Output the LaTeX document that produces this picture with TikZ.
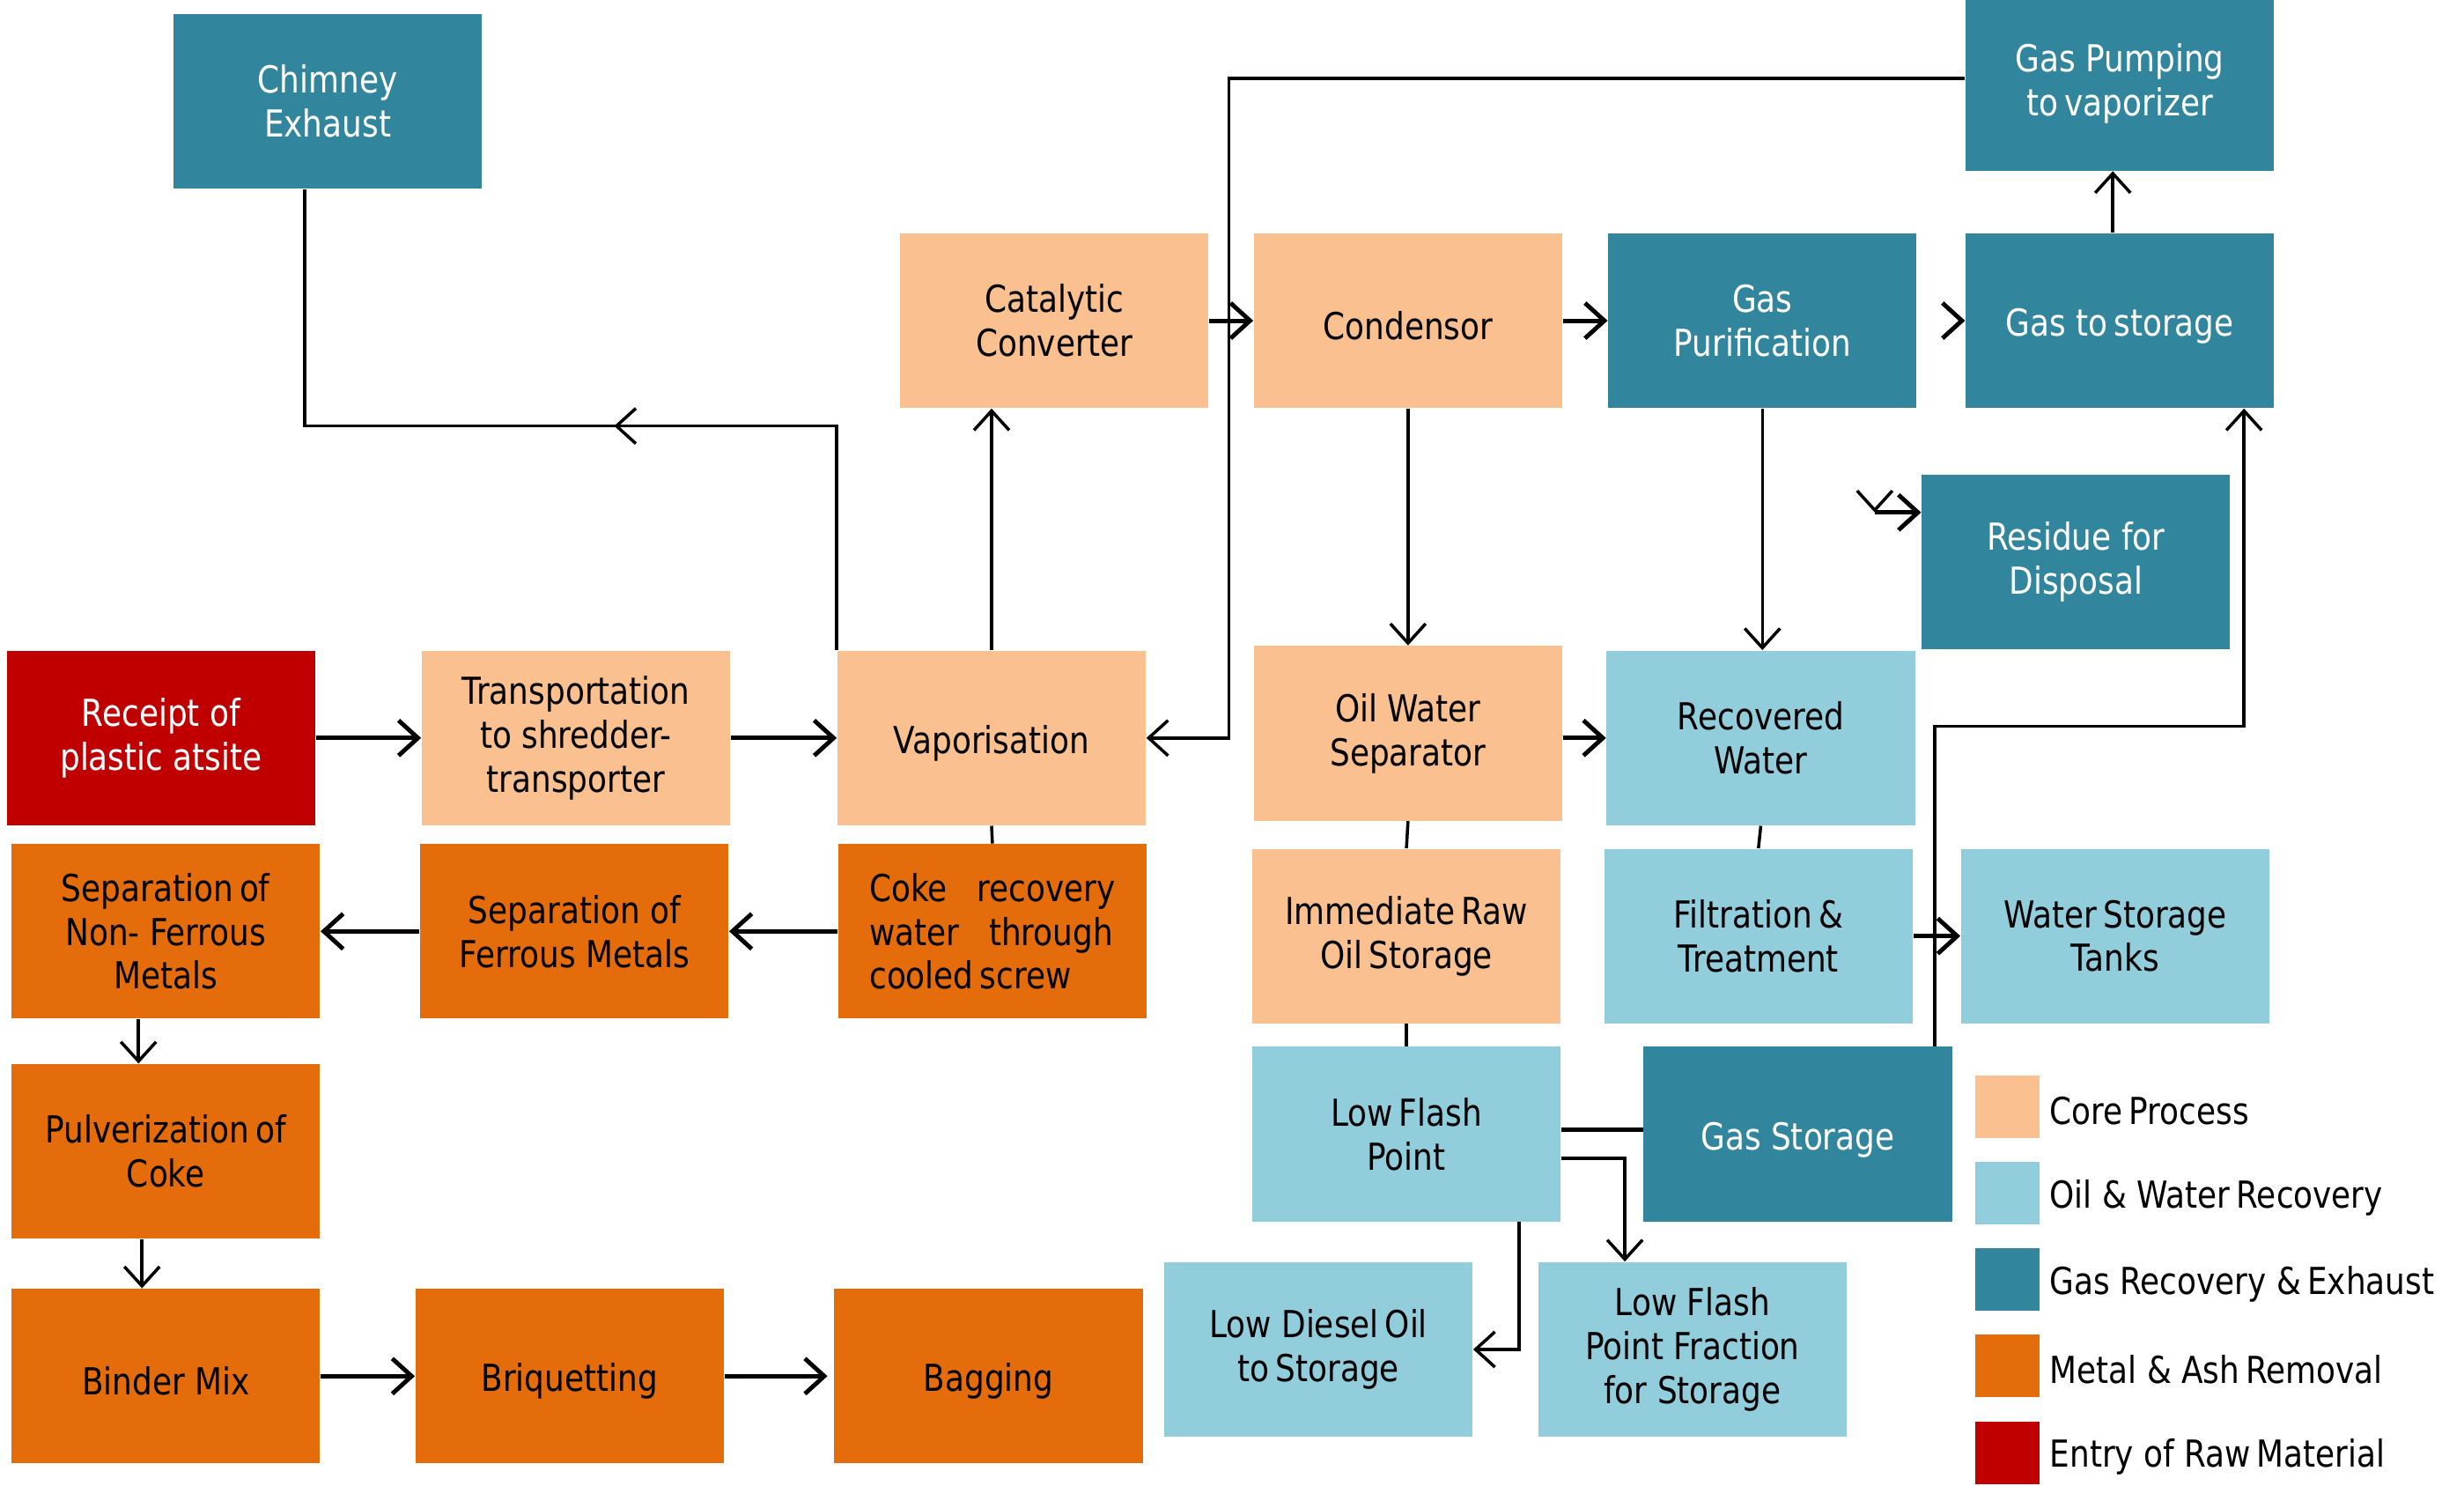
\documentclass[tikz,border=0pt]{standalone}
\usepackage{fontspec}
\setmainfont[FakeStretch=0.85]{DejaVu Sans}
\usepackage{tikz}
\usetikzlibrary{arrows.meta, decorations.markings}
\definecolor{corecol}{HTML}{FAC090}
\definecolor{oilcol}{HTML}{92CDDC}
\definecolor{gascol}{HTML}{31859C}
\definecolor{metalcol}{HTML}{E46C0A}
\definecolor{rawcol}{HTML}{C00000}
\tikzstyle{box} = [rectangle, minimum width=3.5cm, minimum height=1.98cm, inner sep=2pt, align=center, font=\fontsize{12}{14.2}\selectfont, execute at begin node={\rule{0pt}{12.5pt}}]
\tikzstyle{core} = [box, fill=corecol]
\tikzstyle{oil} = [box, fill=oilcol]
\tikzstyle{gas} = [box, fill=gascol, text=white]
\tikzstyle{metal} = [box, fill=metalcol]
\tikzstyle{raw} = [box, fill=rawcol, text=white]
\tikzstyle{legbox} = [rectangle, minimum width=0.73cm, minimum height=0.71cm, inner sep=0pt]
\tikzstyle{legtext} = [anchor=west, inner sep=0pt, font=\fontsize{12}{14.2}\selectfont]
\tikzstyle{arrow} = [line width=1pt,-{Straight Barb[length=0.22cm,width=0.4cm]}]
\tikzstyle{harrow} = [arrow, line width=1.4pt]
\tikzstyle{link} = [line width=1pt]

\begin{document}
\begin{tikzpicture}[x=0.017844cm, y=-0.017844cm]
						\useasboundingbox (0,0) rectangle (1568,945);
						% top rows
						\node (chim) [gas] at (208.5,64.5) {Chimney\\Exhaust};
						\node (cat) [core] at (671,204) {Catalytic\\Converter};
						\node (cond) [core] at (896,204) {Condensor};
						\node (gpur) [gas] at (1121.5,204) {Gas\\Purification};
						\node (gsto) [gas] at (1349,204) {Gas to\,storage};
						\node (gpump) [gas] at (1349,53) {Gas Pumping\\to\,vaporizer};
						\node (resid) [gas] at (1321,357.5) {Residue for\\Disposal};
						% main line
						\node (rcpt) [raw] at (102.5,469.5) {Receipt of\\plastic atsite};
						\node (trans) [core] at (366.5,469.5) {Transportation\\to shredder-\\transporter};
						\node (vap) [core] at (631,469.5) {Vaporisation};
						\node (ows) [core] at (896,466.5) {Oil Water\\Separator};
						\node (recw) [oil] at (1120.5,469.5) {Recovered\\Water};
						% metals
						\node (nonfe) [metal] at (105.5,592.5) {Separation\,of\\Non- Ferrous\\Metals};
						\node (fe) [metal] at (365.5,592.5) {Separation of\\Ferrous Metals};
						\node (coke) [metal, align=left] at (631.5,592.5) {Coke\hspace{0.8em}recovery\\water\hspace{0.8em}through\\cooled\,screw};
						\node (pulv) [metal] at (105.5,732.5) {Pulverization\,of\\Coke};
						\node (bind) [metal] at (105.5,875.5) {Binder Mix};
						\node (briq) [metal] at (362.5,875.5) {Briquetting};
						\node (bag) [metal] at (629,875.5) {Bagging};
						% oil and water
						\node (imm) [core] at (895,595.5) {Immediate\,Raw\\Oil\,Storage};
						\node (filt) [oil] at (1119,595.5) {Filtration\,\&\\Treatment};
						\node (wst) [oil] at (1346,595.5) {Water\,Storage\\Tanks};
						\node (lfp) [oil] at (895,721.5) {Low\,Flash\\Point};
						\node (gst) [gas] at (1144,721.5) {Gas Storage};
						\node (ldo) [oil] at (839,858.5) {Low Diesel\,Oil\\to\,Storage};
						\node (lfpf) [oil] at (1077,858.5) {Low Flash\\Point Fraction\\for Storage};
						% legend
						\node (leg1) [legbox, fill=corecol] at (1277.5,704) {};
						\node (leg2) [legbox, fill=oilcol] at (1277.5,759) {};
						\node (leg3) [legbox, fill=gascol] at (1277.5,814) {};
						\node (leg4) [legbox, fill=metalcol] at (1277.5,869) {};
						\node (leg5) [legbox, fill=rawcol] at (1277.5,924.5) {};
						\node (legt1) [legtext] at (1304,707) {Core\,Process};
						\node (legt2) [legtext] at (1304,762) {Oil \& Water\,Recovery};
						\node (legt3) [legtext] at (1304,817) {Gas Recovery \&\,Exhaust};
						\node (legt4) [legtext] at (1304,871) {Metal \& Ash\,Removal};
						\node (legt5) [legtext] at (1304,927) {Entry of Raw\,Material};
						% bends
						\coordinate (chimbend) at (194,271);
						\coordinate (pumpbend) at (782,50);
						\coordinate (residbend) at (1193,326);
						\coordinate (gbend) at (1428,462);
						\coordinate (fbend) at (1034,737);
						% connectors
						\draw [link, postaction={decorate}, decoration={markings, mark=at position 0.45 with {\arrow{Straight Barb[length=0.22cm,width=0.4cm]}}}] (vap.north west) -- (vap.north west |- chimbend) -- (chimbend) -- (chimbend |- chim.south);
						\draw [arrow] (vap.north) -- (vap.north |- cat.south);
						\draw [harrow] (cat.east) -- (cond.west);
						\draw [arrow] (gpump.west |- pumpbend) -- (pumpbend) -- (pumpbend |- vap.east) -- (vap.east);
						\draw [harrow] (cond.east) -- (gpur.west);
						\draw [harrow] ([xshift=-1pt]gsto.west) -- (gsto.west);
						\draw [arrow] ([xshift=-0.08cm]gsto.north) -- ([xshift=-0.08cm]gpump.south);
						\draw [arrow] (cond.south) -- (ows.north);
						\draw [arrow] (gpur.south) -- (gpur.south |- recw.north);
						\draw [arrow] ([yshift=1pt]residbend) -- (residbend);
						\draw [harrow] (residbend) -- (residbend -| resid.west);
						\draw [harrow] (rcpt.east) -- (trans.west);
						\draw [harrow] (trans.east) -- (vap.west);
						\draw [harrow] (ows.east |- recw.west) -- (recw.west);
						\draw [link] (vap.south) -- (coke.north);
						\draw [harrow] (coke.west) -- (fe.east);
						\draw [harrow] (fe.west) -- (nonfe.east);
						\draw [arrow] ([xshift=-0.31cm]nonfe.south) -- ([xshift=-0.31cm]pulv.north);
						\draw [arrow] ([xshift=-0.27cm]pulv.south) -- ([xshift=-0.27cm]bind.north);
						\draw [harrow] (bind.east) -- (briq.west);
						\draw [harrow] (briq.east) -- ([xshift=-0.07cm]bag.west);
						\draw [link] (ows.south) -- (imm.north);
						\draw [link] (recw.south) -- (filt.north);
						\draw [link] (imm.south) -- (lfp.north);
						\draw [harrow] (filt.east) -- (wst.west);
						\draw [arrow] ([xshift=-0.2cm]gst.north east) |- (gbend) -- (gbend |- gsto.south);
						\draw [link, line width=1.4pt] ([yshift=0.05cm]lfp.east) -- ([yshift=0.05cm]gst.west);
						\draw [arrow] (lfp.east |- fbend) -- (fbend) -- (fbend |- lfpf.north);
						\draw [arrow] ([xshift=-0.48cm]lfp.south east) |- (ldo.east);
					\end{tikzpicture}
\end{document}
